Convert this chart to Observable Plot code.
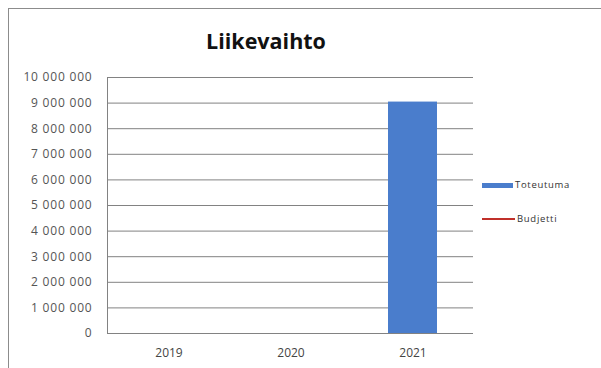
<!DOCTYPE html>
<html>
<head>
<meta charset="utf-8">
<script src="https://cdn.jsdelivr.net/npm/d3@7"></script>
<script src="https://cdn.jsdelivr.net/npm/@observablehq/plot@0.6"></script>
<style>
  html, body { margin: 0; padding: 0; background: #fff; overflow: hidden; }
  #wrap { position: relative; width: 601px; height: 368px; overflow: hidden; font-family: "Open Sans", sans-serif; }
  #border { position: absolute; left: 8px; top: 8px; width: 700px; height: 500px; border: 1px solid #8c8c8c; box-sizing: border-box; }
  #chart { position: absolute; left: 0; top: 0; }
  #title { position: absolute; left: 166px; width: 200px; top: 26px; text-align: center; font-size: 21.5px; font-weight: bold; color: #111; }
  .leg { position: absolute; font-size: 9.5px; letter-spacing: 0.7px; color: #333; line-height: 12px; }
  .sw { position: absolute; }
  #chart svg g[aria-label="y-axis tick label"] text { letter-spacing: 0.8px; }
</style>
</head>
<body>
<div id="wrap">
  <div id="border"></div>
  <div id="chart"></div>
  <div id="title">Liikevaihto</div>
  <div class="sw" id="sw1" style="left:482px; top:183px; width:31px; height:5px;"></div>
  <div class="leg" id="lg1" style="left:515px; top:179px;"></div>
  <div class="sw" id="sw2" style="left:482px; top:218px; width:33px; height:2px;"></div>
  <div class="leg" id="lg2" style="left:517px; top:213px;"></div>
</div>
<script>
const years = ["2019", "2020", "2021"];
const toteutuma = [null, null, 9040000];
const budjetti = [null, null, null];
const yTicks = [0, 1000000, 2000000, 3000000, 4000000, 5000000, 6000000, 7000000, 8000000, 9000000, 10000000];
const seriesNames = ["Toteutuma", "Budjetti"];
const seriesColors = ["#4a7dcc", "#c0302a"];

const bars = years.map((y, i) => ({year: y, value: toteutuma[i]})).filter(d => d.value != null);
const line = years.map((y, i) => ({year: y, value: budjetti[i]})).filter(d => d.value != null);

const fmt = v => d3.format(",")(v).replace(/,/g, " ");

const plot = Plot.plot({
  width: 601,
  height: 368,
  marginLeft: 107,
  marginRight: 128,
  marginTop: 77,
  marginBottom: 35,
  style: { fontFamily: "Open Sans, sans-serif", background: "transparent" },
  x: { domain: years, paddingInner: 0.6, paddingOuter: 0.3, label: null },
  y: { domain: [0, 10000000], label: null },
  marks: [
    Plot.ruleY(yTicks, { stroke: "#828282", strokeWidth: 1 }),
    Plot.frame({ anchor: "left", stroke: "#828282" }),
    Plot.barY(bars, { x: "year", y: "value", fill: seriesColors[0] }),
    Plot.lineY(line, { x: "year", y: "value", stroke: seriesColors[1], strokeWidth: 2 }),
    Plot.axisY({ ticks: yTicks, tickFormat: fmt, tickSize: 0, tickPadding: 15, fontSize: 12, color: "#555", label: null }),
    Plot.axisX({ tickSize: 0, tickPadding: 15, fontSize: 12, color: "#444", label: null })
  ]
});
document.getElementById("chart").appendChild(plot);
document.getElementById("sw1").style.background = seriesColors[0];
document.getElementById("sw2").style.background = seriesColors[1];
document.getElementById("lg1").textContent = seriesNames[0];
document.getElementById("lg2").textContent = seriesNames[1];
</script>
</body>
</html>
